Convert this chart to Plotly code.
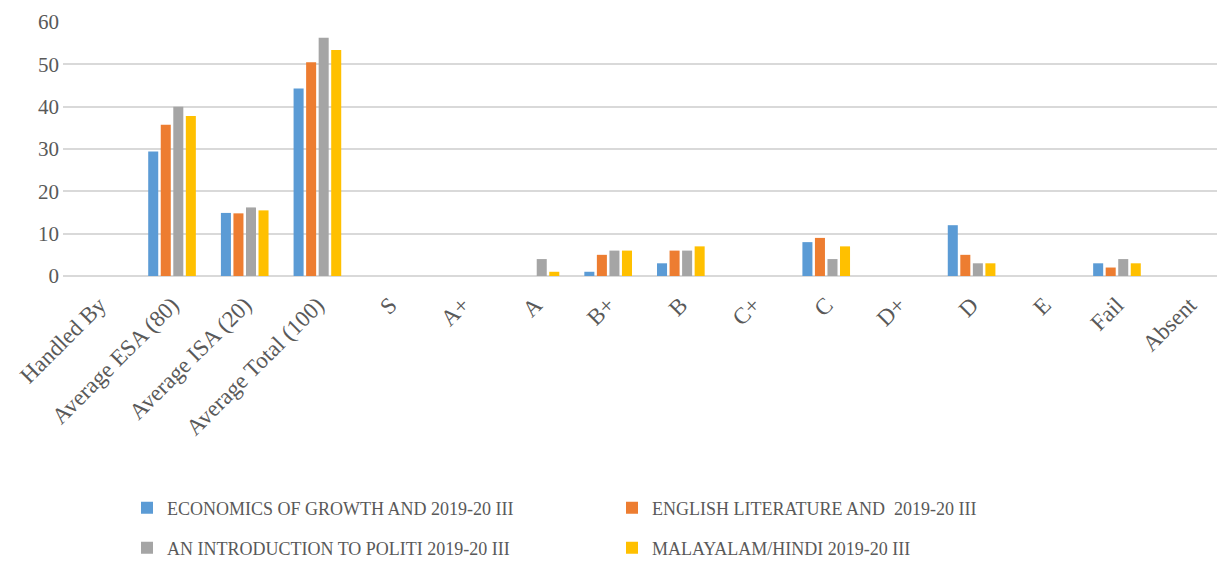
import plotly.graph_objects as go

categories = ["Handled By", "Average ESA (80)", "Average ISA (20)", "Average Total (100)",
              "S", "A+", "A", "B+", "B", "C+", "C", "D+", "D", "E", "Fail", "Absent"]

economics = [None, 29.4, 14.9, 44.3, 0, 0, 0, 1, 3, 0, 8, 0, 12, 0, 3, 0]
english = [None, 35.7, 14.8, 50.5, 0, 0, 0, 5, 6, 0, 9, 0, 5, 0, 2, 0]
politics = [None, 40.0, 16.2, 56.3, 0, 0, 4, 6, 6, 0, 4, 0, 3, 0, 4, 0]
malayalam = [None, 37.8, 15.5, 53.4, 0, 0, 1, 6, 7, 0, 7, 0, 3, 0, 3, 0]

series_names = ["ECONOMICS OF GROWTH AND 2019-20 III",
                "ENGLISH LITERATURE AND  2019-20 III",
                "AN INTRODUCTION TO POLITI 2019-20 III",
                "MALAYALAM/HINDI 2019-20 III"]
colors = ["#5B9BD5", "#ED7D31", "#A5A5A5", "#FFC000"]
legends = ["legend", "legend", "legend2", "legend2"]

font_family = "Liberation Serif"

fig = go.Figure()
for name, vals, col, lg in zip(series_names, [economics, english, politics, malayalam], colors, legends):
    fig.add_trace(go.Bar(x=categories, y=vals, name=name, marker=dict(color=col, line=dict(width=0)),
                         legend=lg))

W, H = 1225, 565
legend_common = dict(orientation="h", xanchor="left", yanchor="middle", xref="container", yref="container",
                     font=dict(family=font_family, size=18, color="#595959"),
                     entrywidth=440, entrywidthmode="pixels", itemwidth=30,
                     bgcolor="rgba(0,0,0,0)", traceorder="normal")

fig.update_layout(
    width=W, height=H,
    margin=dict(l=55, r=7, t=14, b=297),
    plot_bgcolor="white", paper_bgcolor="white",
    barmode="group", bargap=0.31, bargroupgap=0.2,
    font=dict(family=font_family, color="#595959", size=20),
    legend=dict(x=119 / W, y=1 - 500 / H, **legend_common),
    legend2=dict(x=119 / W, y=1 - 540 / H, **legend_common),
    xaxis=dict(tickangle=-45, showgrid=False, showline=False, ticks="", automargin=False,
               tickfont=dict(family=font_family, size=23, color="#595959"),
               ticklabelstandoff=10),
    yaxis=dict(range=[0, 60], dtick=10, showgrid=True, gridcolor="#D9D9D9", gridwidth=1.5,
               zeroline=True, zerolinecolor="#D9D9D9", zerolinewidth=1.5, showline=False, ticks="",
               automargin=False,
               tickfont=dict(family=font_family, size=21, color="#595959"),
               ticklabelstandoff=3),
)

fig.write_html("out.html")
